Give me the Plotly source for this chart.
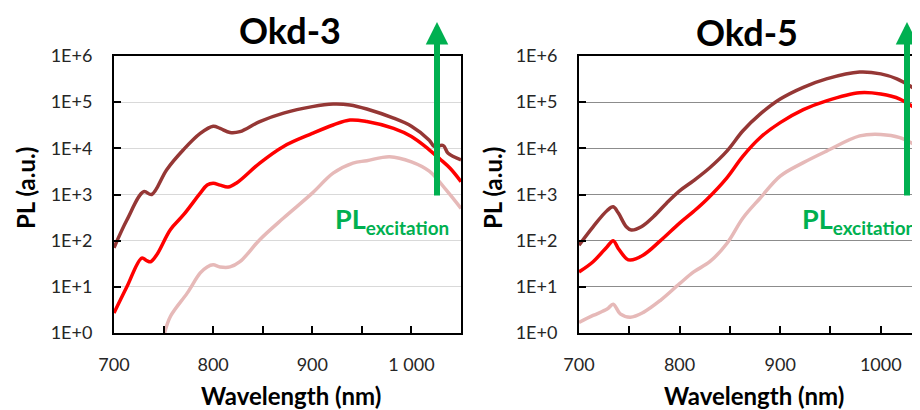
import plotly.graph_objects as go

# Okd-3 (left panel)
okd3_dark_x = [700, 713, 730, 738, 753, 770, 787, 800, 807, 817, 827, 847, 871, 900, 921, 938, 955, 982, 1000, 1018, 1023, 1032, 1037, 1050]
okd3_dark_y = [70, 280, 1150, 1000, 3400, 9300, 21000, 30000, 27000, 22000, 23000, 38000, 58000, 80000, 91000, 87000, 71000, 45000, 30000, 15000, 11000, 11500, 7800, 5600]

okd3_red_x = [700, 713, 728, 733, 737, 743, 757, 770, 787, 794, 800, 807, 815, 824, 847, 871, 900, 921, 938, 955, 982, 1000, 1018, 1029, 1039, 1050]
okd3_red_y = [2.7, 10, 42, 37, 35, 49, 175, 360, 1070, 1600, 1750, 1600, 1450, 1800, 4800, 11000, 21000, 32000, 41000, 38000, 27000, 18000, 9300, 5800, 3700, 1900]

okd3_pink_x = [751, 757, 774, 787, 794, 800, 807, 817, 827, 847, 871, 900, 921, 941, 955, 978, 1000, 1018, 1035, 1050]
okd3_pink_y = [1.0, 2.3, 7.4, 20, 27, 30, 27, 27, 35, 105, 310, 1070, 2900, 4800, 5400, 6600, 5100, 3200, 1260, 500]

# Okd-5 (right panel)
okd5_dark_x = [700, 714, 728, 734, 739, 747, 752, 762, 774, 787, 800, 814, 830, 847, 863, 880, 900, 923, 946, 979, 1000, 1016, 1040]
okd5_dark_y = [80, 200, 450, 540, 400, 200, 170, 200, 330, 650, 1200, 2000, 3800, 8700, 24000, 55000, 117000, 210000, 320000, 450000, 410000, 320000, 160000]

okd5_red_x = [700, 714, 728, 734, 739, 747, 751, 764, 781, 800, 814, 827, 847, 863, 880, 900, 923, 946, 979, 1000, 1019, 1040]
okd5_red_y = [21, 35, 74, 100, 68, 41, 38, 49, 100, 240, 430, 780, 2300, 6800, 17000, 36000, 69000, 107000, 160000, 150000, 117000, 60000]

okd5_pink_x = [700, 714, 728, 734, 741, 751, 764, 781, 800, 814, 830, 847, 863, 880, 900, 923, 946, 979, 1000, 1019, 1040]
okd5_pink_y = [1.7, 2.4, 3.3, 4.2, 2.6, 2.2, 2.8, 5.1, 11.7, 21, 35, 87, 310, 830, 2500, 4900, 8700, 18600, 20000, 17000, 10000]

y_ticks = [1, 10, 100, 1e3, 1e4, 1e5, 1e6]
y_labels = ['1E+0', '1E+1', '1E+2', '1E+3', '1E+4', '1E+5', '1E+6']
x_ticks = [700, 800, 900, 1000]
x_labels_left = ['700', '800', '900', '1 000']
x_labels_right = ['700', '800', '900', '1000']

DARK = '#953735'
RED = '#ff0000'
PINK = '#e6b9b8'
GREEN = '#00b050'
FONT = 'Lato'

# the page body has an 8px margin, so the figure is drawn 8px smaller
OFF = 8
W, H = 920 - OFF, 410 - OFF
TOP, BOT = 56, 333  # plot area top/bottom in window pixels


def px(x):
    return (x - OFF) / W


def py(y):
    return (BOT - y) / (BOT - TOP)


fig = go.Figure()

for xs, ys, c in [(okd3_pink_x, okd3_pink_y, PINK), (okd3_dark_x, okd3_dark_y, DARK), (okd3_red_x, okd3_red_y, RED)]:
    fig.add_trace(go.Scatter(x=xs, y=ys, mode='lines', line=dict(color=c, width=3.5, shape='spline'),
                             xaxis='x', yaxis='y', showlegend=False))
for xs, ys, c in [(okd5_pink_x, okd5_pink_y, PINK), (okd5_dark_x, okd5_dark_y, DARK), (okd5_red_x, okd5_red_y, RED)]:
    fig.add_trace(go.Scatter(x=xs, y=ys, mode='lines', line=dict(color=c, width=3.5, shape='spline'),
                             xaxis='x2', yaxis='y2', showlegend=False))

tickfont = dict(family=FONT, size=18, color='#262626')


def xax(domain, rng, labels, anchor, mirror):
    return dict(domain=domain, range=rng, anchor=anchor, tickvals=x_ticks, ticktext=labels,
                ticks='inside', ticklen=7, tickwidth=2, tickcolor='black',
                minor=dict(dtick=50, tick0=700, ticks='inside', ticklen=7, tickwidth=2, tickcolor='black', showgrid=False),
                showline=True, linecolor='black', linewidth=2, mirror=mirror, automargin=False,
                showgrid=False, zeroline=False, tickfont=tickfont, ticklabelstandoff=14)


def yax(domain, anchor, gridcolor, mirror):
    return dict(domain=domain, type='log', range=[0, 6], anchor=anchor, tickvals=y_ticks, ticktext=y_labels,
                ticks='inside', ticklen=7, tickwidth=2, tickcolor='black',
                showline=True, linecolor='black', linewidth=2, mirror=mirror, automargin=False,
                showgrid=True, gridcolor=gridcolor, gridwidth=1, zeroline=False,
                tickfont=tickfont, ticklabelstandoff=16)


fig.update_layout(
    width=W, height=H,
    margin=dict(l=0, r=0, t=TOP - OFF, b=410 - BOT),
    plot_bgcolor='white', paper_bgcolor='white',
    xaxis=xax([px(114), px(461)], [700, 1050], x_labels_left, 'y', True),
    yaxis=yax([0, 1], 'x', '#d9d9d9', True),
    xaxis2=xax([px(579), 1.0], [700, 1039], x_labels_right, 'y2', True),
    yaxis2=yax([0, 1], 'x2', '#8c8c8c', False),
)

# titles
for x, y, t in [(290, 30, 'Okd-3'), (747, 32, 'Okd-5')]:
    fig.add_annotation(x=px(x), y=py(y), xref='paper', yref='paper', text='<b>%s</b>' % t,
                       showarrow=False, xanchor='center', yanchor='middle',
                       font=dict(family=FONT, size=36, color='black'))

# axis titles
for x in [291, 754]:
    fig.add_annotation(x=px(x), y=py(395), xref='paper', yref='paper', text='<b>Wavelength (nm)</b>',
                       showarrow=False, xanchor='center', yanchor='middle',
                       font=dict(family=FONT, size=24, color='black'))
for x in [25, 492]:
    fig.add_annotation(x=px(x), y=py(188), xref='paper', yref='paper', text='<b>PL (a.u.)</b>',
                       showarrow=False, xanchor='center', yanchor='middle', textangle=-90,
                       font=dict(family=FONT, size=24, color='black'))

# excitation arrows and labels
for ax_x, lab_x in [(437, 333), (907, 800)]:
    fig.add_annotation(x=px(ax_x), y=py(22), xref='paper', yref='paper', text='',
                       showarrow=True, ax=0, ay=175, arrowhead=2, arrowsize=0.75, arrowwidth=6,
                       arrowcolor=GREEN, standoff=0)
    fig.add_annotation(x=px(lab_x), y=py(220), xref='paper', yref='paper',
                       text='<b>PL<sub>excitation</sub></b>', showarrow=False, xanchor='left', yanchor='middle',
                       font=dict(family=FONT, size=27, color=GREEN))

fig.write_html('out.html')
